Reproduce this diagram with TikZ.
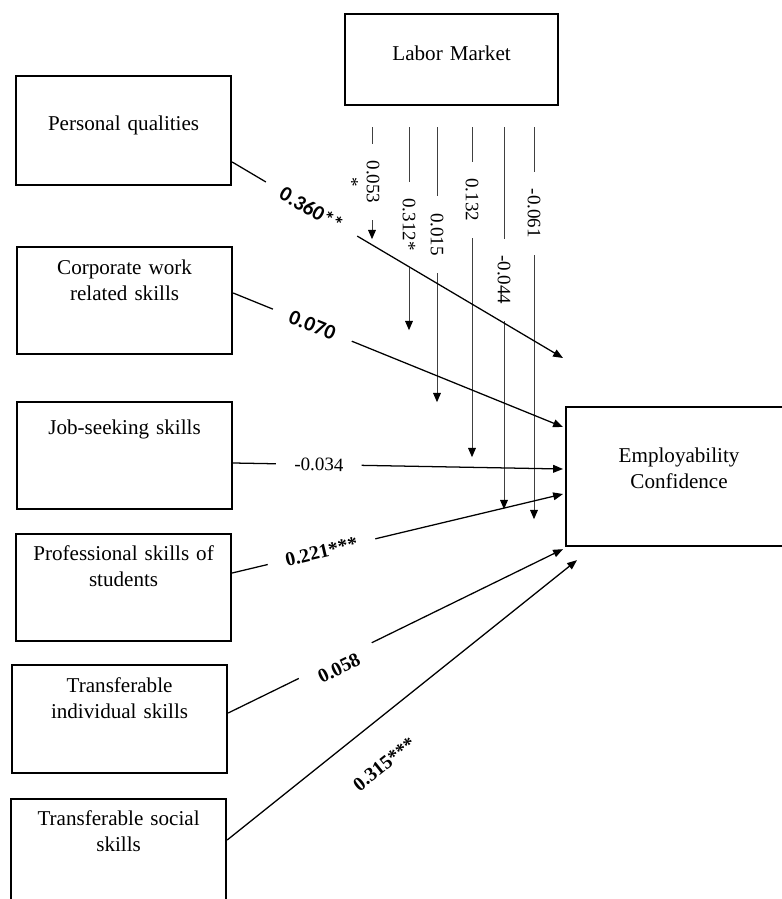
\documentclass[tikz,border=0pt]{standalone}
\usepackage{fontspec}
\setmainfont{Liberation Serif}
\newfontfamily\carlito{Carlito}
\usetikzlibrary{arrows.meta,calc}

\begin{document}
\begin{tikzpicture}[
        x=0.025cm, y=-0.025cm,   % one unit is one pixel of the layout, y goes down
        >={Triangle[length=7pt,width=5.5pt]},   % Arrow style
        box/.style={draw, line width=1.5pt, inner sep=0pt, align=center, text width=5.375cm,
                    font=\fontsize{15}{18.5}\selectfont},
        link/.style={->, line width=0.9pt},
        modline/.style={-{Triangle[length=6.5pt,width=5.5pt,black]}, line width=0.6pt, draw=black!75},
        coef/.style={fill=white, inner xsep=13pt, inner ysep=2pt, sloped,
                     font=\fontsize{14}{16}\selectfont\bfseries},
        vcoef/.style={fill=white, inner xsep=12pt, inner ysep=1pt, rotate=-90, align=center,
                      font=\fontsize{13.5}{15}\selectfont}
    ]
    \useasboundingbox (0,0) rectangle (781,899);

    % Define the nodes with text inside boxes
    \node[box, anchor=north west, text width=5.325cm, text height=1.15cm, text depth=1.125cm] (lm) at (344,13) {Labor Market};
    \node[box, anchor=north west, text height=1.35cm, text depth=1.375cm] (pq) at (15,75) {Personal qualities};
    \node[box, anchor=north west, text height=0.675cm, text depth=2cm] (corp) at (16,246) {Corporate work\\related skills};
    \node[box, anchor=north west, text height=0.8cm, text depth=1.875cm] (job) at (16,401) {Job-seeking skills};
    \node[box, anchor=north west, text height=0.65cm, text depth=2.025cm] (prof) at (15,533) {Professional skills of\\students};
    \node[box, anchor=north west, text height=0.675cm, text depth=2.025cm] (ti) at (11,664) {Transferable\\individual skills};
    \node[box, anchor=north west, text height=0.65cm, text depth=2.25cm] (ts) at (10,798) {Transferable social\\skills};
    \node[box, anchor=north west, text width=5.65cm, text height=1.375cm, text depth=2.1cm] (ec) at (565,406) {Employability\\Confidence};

    % Free ends of the moderating arrows
    \coordinate (m1s) at ($(lm.south west)+(28,21)$);
    \coordinate (m1e) at ($(lm.south west)+(28,133)$);
    \coordinate (m2s) at ($(lm.south west)+(65,21)$);
    \coordinate (m2e) at ($(lm.south west)+(65,224)$);
    \coordinate (m3s) at ($(lm.south west)+(93,21)$);
    \coordinate (m3e) at ($(lm.south west)+(93,296)$);
    \coordinate (m4s) at ($(lm.south west)+(128,21)$);
    \coordinate (m4e) at ($(lm.south west)+(128,351)$);
    \coordinate (m5s) at ($(lm.south west)+(160,21)$);
    \coordinate (m5e) at ($(lm.south west)+(160,403)$);
    \coordinate (m6s) at ($(lm.south west)+(190,21)$);
    \coordinate (m6e) at ($(lm.south west)+(190,413)$);

    % Free ends of the paths in front of the outcome box
    \coordinate (pq-end) at ($(ec.north west)+(-2,-48)$);
    \coordinate (corp-end) at ($(ec.north west)+(-2,21)$);
    \coordinate (job-end) at ($(ec.north west)+(-2,63)$);
    \coordinate (prof-end) at ($(ec.north west)+(-2,88)$);
    \coordinate (ti-end) at ($(ec.south west)+(-2,2)$);
    \coordinate (ts-end) at ($(ec.south west)+(12,13)$);

    % Draw the moderating arrows from the labor market
    \draw[modline] (m1s) -- node[vcoef, pos=.49, yshift=-6.7pt] {0.053\\*} (m1e);
    \draw[modline] (m2s) -- node[vcoef, pos=.48] {0.312*} (m2e);
    \draw[modline] (m3s) -- node[vcoef, pos=.39] {0.015} (m3e);
    \draw[modline] (m4s) -- node[vcoef, pos=.22] {0.132} (m4e);
    \draw[modline] (m5s) -- node[vcoef, pos=.40] {-0.044} (m5e);
    \draw[modline] (m6s) -- node[vcoef, pos=.22] {-0.061} (m6e);

    % Draw the paths to employability confidence
    \draw[link] ($(pq.north east)+(0,87)$) -- node[coef, pos=.24, font=\fontsize{15}{17}\selectfont\carlito\bfseries] {0.360**} (pq-end);
    \draw[link] ($(corp.north east)+(0,47)$) -- node[coef, pos=.24, font=\fontsize{15}{17}\selectfont\carlito\bfseries] {0.070} (corp-end);
    \draw[link] ($(job.north east)+(0,62)$) -- node[coef, pos=.26, font=\fontsize{13.5}{15}\selectfont] {-0.034} (job-end);
    \draw[link] ($(prof.north east)+(0,40)$) -- node[coef, pos=.27] {0.221***} (prof-end);
    \draw[link] ($(ti.north east)+(0,49)$) -- node[coef, pos=.32, inner ysep=10pt, yshift=-6pt] {0.058} (ti-end);
    \draw[link] ($(ts.north east)+(0,42)$) -- node[coef, pos=.38, fill=none, yshift=-27.6pt] {0.315***} (ts-end);

\end{tikzpicture}
\end{document}
